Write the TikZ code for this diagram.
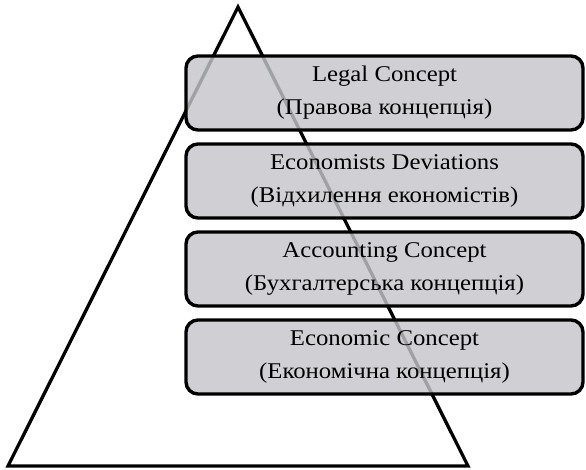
\documentclass[tikz,border=0pt]{standalone}
\usepackage{fontspec}
\setmainfont{Liberation Serif}
\newfontfamily\boxfont[FakeStretch=1.1]{Liberation Serif}
\definecolor{boxfill}{RGB}{196,197,202}
\begin{document}
\begin{tikzpicture}[x=1pt,y=-1pt,
  layerbox/.style={draw=black, line width=3.4pt, rounded corners=12pt,
    fill=boxfill, fill opacity=0.82, text opacity=1,
    minimum width=397pt, minimum height=74pt, align=center,
    font=\boxfont\fontsize{22.5}{33}\selectfont, inner sep=0pt},
  pyramid/.style={draw=black, line width=3.3pt, line join=miter}]
\useasboundingbox (0,0) rectangle (586,470);
\coordinate (apex) at (238,7);
\coordinate (bl) at (8,466);
\coordinate (br) at (468,466);
\draw[pyramid] (apex) -- (bl) -- (br) -- cycle;
\node[layerbox] (legal) at (384.5,93) {Legal Concept\\(Правова концепція)};
\node[layerbox] (dev) at (384.5,181) {Economists Deviations\\(Відхилення економістів)};
\node[layerbox] (acc) at (384.5,269) {Accounting Concept\\(Бухгалтерська концепція)};
\node[layerbox] (econ) at (384.5,357) {Economic Concept\\(Економічна концепція)};
\end{tikzpicture}
\end{document}
